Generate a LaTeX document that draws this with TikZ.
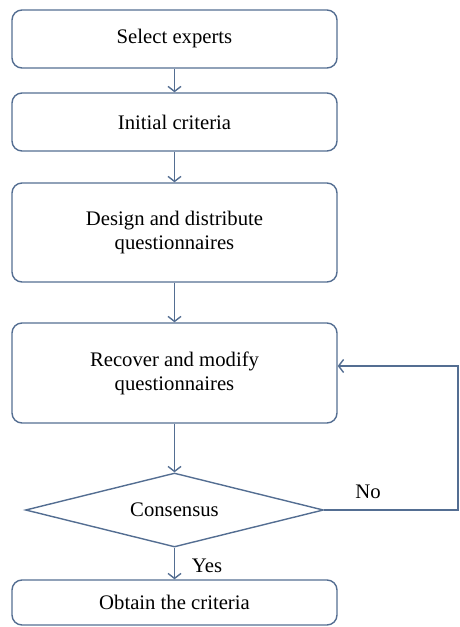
\documentclass[tikz,border=0pt]{standalone}
\usepackage{fontspec}
\setmainfont{Liberation Serif}
\usetikzlibrary{arrows.meta,shapes.geometric}
\definecolor{LineClr}{RGB}{84,110,146}

\tikzset{
  stepbox/.style={draw=LineClr,line width=1.4pt,rounded corners=10pt,
    minimum width=325pt,align=center,inner sep=0pt,font=\fontsize{20.7}{24}\selectfont},
  decision/.style={draw=LineClr,line width=1.4pt,diamond,aspect=4,inner sep=0pt,
    minimum width=298pt,minimum height=74pt,font=\fontsize{20.7}{24}\selectfont},
  arr/.style={draw=LineClr,line width=1.4pt,-{Straight Barb[length=5pt,width=13pt]}},
  lbl/.style={font=\fontsize{20.7}{24}\selectfont}
}

\begin{document}
\begin{tikzpicture}[x=1pt,y=-1pt]
\useasboundingbox (0,0) rectangle (459,627);

\node[stepbox,minimum height=58pt] (sel) at (174.5,39) {Select experts};
\node[stepbox,minimum height=58pt] (init) at (174.5,122) {Initial criteria};
\node[stepbox,minimum height=99pt] (design) at (174.5,232.5) {Design and distribute\\questionnaires};
\node[stepbox,minimum height=100pt] (rec) at (174.5,373) {Recover and modify\\questionnaires};
\node[decision] (cons) at (174.5,510) {Consensus};
\node[stepbox,minimum height=45pt] (obt) at (174.5,602.5) {Obtain the criteria};

\node[lbl] (no) at (368,492) {No};
\node[lbl] (yes) at (207,566) {Yes};

\coordinate (fbA) at (458,510);
\coordinate (fbB) at (458,366);

\draw[arr] (sel) -- (init);
\draw[arr] (init) -- (design);
\draw[arr] (design) -- (rec);
\draw[arr] (rec) -- (cons);
\draw[arr] (cons) -- (obt);
\draw[arr] (cons.east) -- (fbA) -- (fbB) -- (fbB -| rec.east);

\end{tikzpicture}
\end{document}
